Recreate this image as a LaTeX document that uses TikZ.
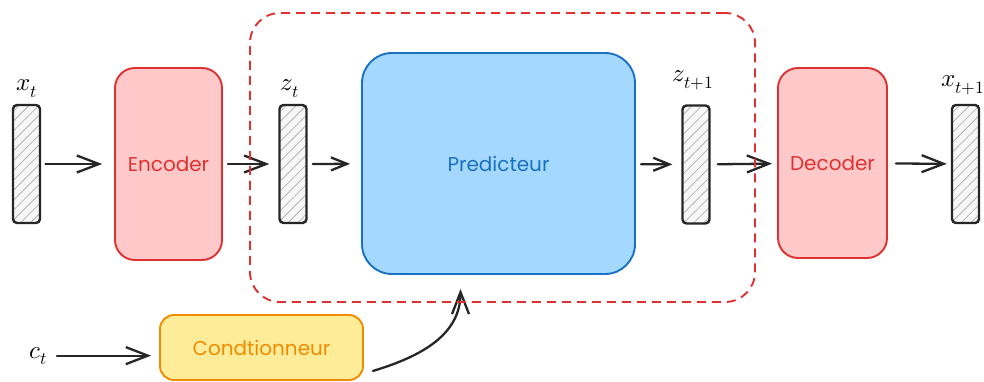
\documentclass[tikz,border=0pt]{standalone}
\usepackage{fontspec}
\usepackage{unicode-math}
\setmathfont{Latin Modern Math}
\newfontfamily\hand{Poppins}
\usetikzlibrary{arrows.meta,patterns.meta}
\definecolor{redS}{HTML}{E03131}
\definecolor{redF}{HTML}{FFC9C9}
\definecolor{blueS}{HTML}{1971C2}
\definecolor{blueF}{HTML}{A5D8FF}
\definecolor{yelS}{HTML}{F08C00}
\definecolor{yelF}{HTML}{FFEC99}
\definecolor{hatchc}{HTML}{B4B4B4}
\tikzset{
  vecbar/.style={draw=black!85, line width=2.4pt, rounded corners=4pt,
    minimum width=27pt, minimum height=118pt, inner sep=0pt,
    preaction={fill=gray!6},
    pattern={Lines[angle=45,distance=7pt,line width=0.8pt]}, pattern color=hatchc},
  blk/.style={line width=1.9pt, rounded corners=#1, inner sep=0pt,
    font=\hand\fontsize{20}{24}\selectfont},
  lab/.style={font=\fontsize{25}{30}\selectfont, inner sep=0pt, anchor=base},
  arr/.style={draw=black!85, line width=2.3pt, line cap=round,
    -{Straight Barb[length=22pt,width=17pt,line width=2.3pt]}},
  arrs/.style={draw=black!85, line width=2.3pt, line cap=round,
    -{Straight Barb[length=16pt,width=13pt,line width=2.3pt]}},
  grp/.style={draw=redS, line width=1.9pt, dash pattern=on 9pt off 6pt,
    rounded corners=30pt, inner sep=0pt},
}
\begin{document}
\begin{tikzpicture}[x=1pt,y=-1pt]
\useasboundingbox (0,0) rectangle (984,382);

% vectors
\node[vecbar] (xt) at (26.5,164) {};
\node[vecbar] (zt) at (293,164) {};
\node[vecbar] (z1) at (696,164.5) {};
\node[vecbar] (x1) at (965.5,164) {};

% blocks
\node[blk=20pt, draw=redS, fill=redF, text=redS, minimum width=107pt, minimum height=192pt] (enc) at (168.5,164) {Encoder};
\node[blk=30pt, draw=blueS, fill=blueF, text=blueS, minimum width=273pt, minimum height=221pt] (pred) at (498.5,163.5) {Predicteur};
\node[blk=20pt, draw=redS, fill=redF, text=redS, minimum width=109pt, minimum height=190pt] (dec) at (832.5,163) {Decoder};
\node[blk=14pt, draw=yelS, fill=yelF, text=yelS, minimum width=203pt, minimum height=65pt] (cond) at (261.5,347.5) {Condtionneur};

% labels
\node[lab] (lxt) at (27,91) {$x_t$};
\node[lab] (lzt) at (290,91) {$z_t$};
\node[lab] (lz1) at (693,82) {$z_{t+1}$};
\node[lab] (lx1) at (963,87) {$x_{t+1}$};
\node[lab] (ct) at (38,358) {$c_t$};

% connectors
\draw[arr, shorten <=5pt, shorten >=12pt] (xt) -- (enc);
\draw[arr, shorten <=5pt, shorten >=9pt] (enc) -- (zt);
\draw[arrs, shorten <=5pt, shorten >=11pt] (zt) -- (pred);
\draw[arrs, shorten <=5pt, shorten >=9pt] (pred) -- (z1);
\draw[arr, shorten <=7pt, shorten >=5pt] (z1) -- (dec);
\draw[arr, shorten <=8pt, shorten >=4pt] (dec) -- (x1);
\draw[arr] ([shift={(10,0)}]ct.east) -- ([shift={(-8,0)}]ct.east -| cond.west);
\draw[arr] ([shift={(9,-10)}]cond.south east) .. controls +(50,-15) and +(0,45) .. ([shift={(-38,14)}]pred.south);

% group
\node[grp, minimum width=505pt, minimum height=289pt] (group) at (502.5,157.5) {};
\end{tikzpicture}
\end{document}
